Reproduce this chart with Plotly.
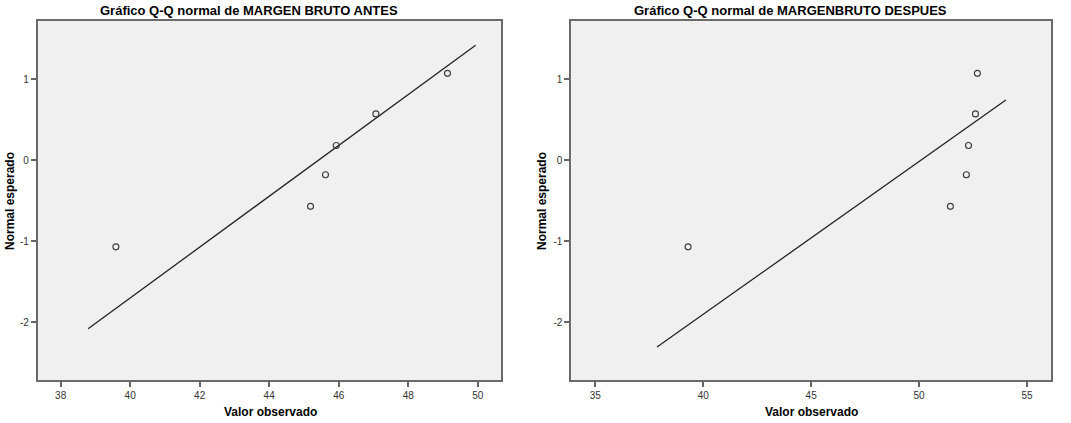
import plotly.graph_objects as go

# Observed values (sorted) and their expected normal scores
antes_obs = [39.59, 45.19, 45.62, 45.93, 47.07, 49.13]
despues_obs = [39.30, 51.45, 52.19, 52.29, 52.61, 52.70]
normal_esperado = [-1.07, -0.57, -0.18, 0.18, 0.57, 1.07]

# Horizontal extent of each reference line
linea_antes_x = [38.79, 49.94]
linea_despues_x = [37.86, 54.02]

titulos = ["Gráfico Q-Q normal de MARGEN BRUTO ANTES",
           "Gráfico Q-Q normal de MARGENBRUTO DESPUES"]
x_ticks_antes = [38, 40, 42, 44, 46, 48, 50]
x_ticks_despues = [35, 40, 45, 50, 55]
y_ticks = [-2, -1, 0, 1]


def mean_sd(v):
    m = sum(v) / len(v)
    s = (sum((a - m) ** 2 for a in v) / (len(v) - 1)) ** 0.5
    return m, s


W, H = 1071, 423
fig = go.Figure()

panels = [
    (antes_obs, linea_antes_x, "x", "y", [37.34, 50.67], x_ticks_antes),
    (despues_obs, linea_despues_x, "x2", "y2", [33.89, 56.11], x_ticks_despues),
]

for obs, lx, xa, ya, xr, xt in panels:
    m, s = mean_sd(obs)
    fig.add_trace(go.Scatter(
        x=lx, y=[(v - m) / s for v in lx], mode="lines",
        line=dict(color="#222222", width=1.3),
        xaxis=xa, yaxis=ya, showlegend=False, hoverinfo="skip"))
    fig.add_trace(go.Scatter(
        x=obs, y=normal_esperado, mode="markers",
        marker=dict(symbol="circle-open", size=6, color="#3a3a3a",
                    line=dict(width=1.1, color="#3a3a3a")),
        xaxis=xa, yaxis=ya, showlegend=False))

doms = [[37.7 / W, 501 / W], [571.3 / W, 1051 / W]]
ydom = [1 - 380 / H, 1 - 21 / H]

tickfont = dict(family="Liberation Sans, Arial", size=10, color="#333333")
common_x = dict(showgrid=False, zeroline=False, ticks="outside", ticklen=5,
                tickcolor="#666666", tickwidth=1.5, tickfont=tickfont,
                showline=True, linecolor="#6a6a6a", linewidth=1.8,
                mirror=True, fixedrange=True)
common_y = dict(showgrid=False, zeroline=False, ticks="outside", ticklen=5,
                tickcolor="#666666", tickwidth=1.5, tickfont=tickfont,
                showline=True, linecolor="#6a6a6a", linewidth=1.8,
                mirror=True, fixedrange=True, range=[-2.712, 1.716],
                tickvals=y_ticks, ticktext=[str(t) for t in y_ticks])

fig.update_layout(
    width=W, height=H,
    margin=dict(l=0, r=0, t=0, b=0),
    paper_bgcolor="white",
    plot_bgcolor="#f0f0f0",
    xaxis=dict(domain=doms[0], range=panels[0][4], tickvals=x_ticks_antes,
               anchor="y", **common_x),
    yaxis=dict(domain=ydom, anchor="x", **common_y),
    xaxis2=dict(domain=doms[1], range=panels[1][4], tickvals=x_ticks_despues,
                anchor="y2", **common_x),
    yaxis2=dict(domain=ydom, anchor="x2", **common_y),
)

title_font = dict(family="Liberation Sans, Arial", size=13, color="#000000")
label_font = dict(family="Liberation Sans, Arial", size=12, color="#000000")

ann = []
for cx, t in zip([249, 790], titulos):
    ann.append(dict(text=f"<b>{t}</b>", x=cx / W, y=1 - 10 / H, xref="paper",
                    yref="paper", showarrow=False, font=title_font,
                    xanchor="center", yanchor="middle"))
for cx in [270, 811]:
    ann.append(dict(text="<b>Valor observado</b>", x=cx / W, y=1 - 412 / H,
                    xref="paper", yref="paper", showarrow=False,
                    font=label_font, xanchor="center", yanchor="middle"))
for cx in [10, 542]:
    ann.append(dict(text="<b>Normal esperado</b>", x=cx / W, y=1 - 201 / H,
                    xref="paper", yref="paper", showarrow=False,
                    font=label_font, textangle=-90,
                    xanchor="center", yanchor="middle"))
fig.update_layout(annotations=ann)

fig.write_html("out.html")
